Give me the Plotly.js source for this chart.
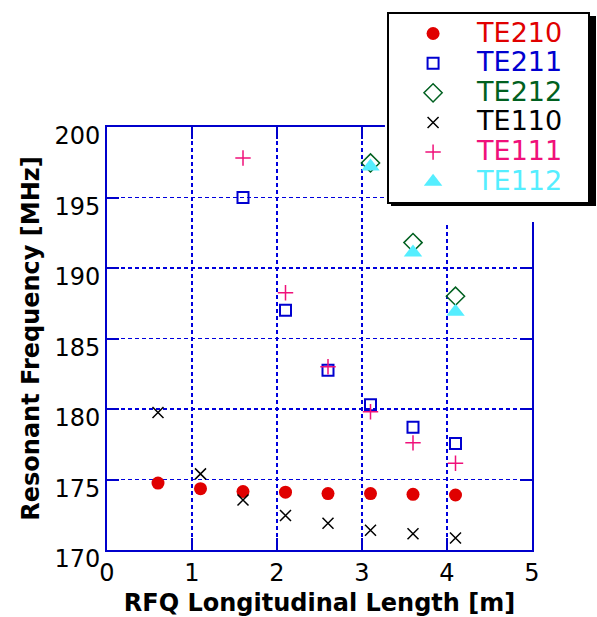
<!DOCTYPE html>
<html>
<head>
<meta charset="utf-8">
<script src="https://cdn.plot.ly/plotly-3.0.1.min.js"></script>
<style>html,body{margin:0;padding:0;background:#fff;}#chart{width:597px;height:617px;}</style>
</head>
<body>
<div id="chart"></div>
<script>
// Data
const xAll = [0.6, 1.1, 1.6, 2.1, 2.6, 3.1, 3.6, 4.1];
const te210 = [174.75, 174.35, 174.15, 174.1, 174.0, 174.0, 173.95, 173.9];
const te110 = [179.75, 175.4, 173.55, 172.45, 171.9, 171.4, 171.15, 170.85];
const x211 = [1.6, 2.1, 2.6, 3.1, 3.6, 4.1];
const te211 = [195.0, 187.0, 182.75, 180.3, 178.7, 177.55];
const te111 = [197.8, 188.25, 183.0, 179.8, 177.6, 176.15];
const x212 = [3.1, 3.6, 4.1];
const te212 = [197.45, 191.8, 188.0];
const te112 = [197.2, 191.1, 186.9];
const seriesNames = ['TE210', 'TE211', 'TE212', 'TE110', 'TE111', 'TE112'];

const colors = {
  TE210: '#e00000', TE211: '#0000d0', TE212: '#006020',
  TE110: '#000000', TE111: '#f0107a', TE112: '#55eeff'
};
function nm(n) {
  return '<span style="color:' + colors[n] + ';font-size:27px">' + n + '</span>\u00a0\u00a0\u00a0';
}

const traces = [
  {x: xAll, y: te210, name: nm(seriesNames[0]), mode: 'markers', type: 'scatter',
   marker: {symbol: 'circle', size: 13, color: colors.TE210}},
  {x: x211, y: te211, name: nm(seriesNames[1]), mode: 'markers', type: 'scatter',
   marker: {symbol: 'square-open', size: 11, color: colors.TE211, line: {width: 2, color: colors.TE211}}},
  {x: x212, y: te212, name: nm(seriesNames[2]), mode: 'markers', type: 'scatter',
   marker: {symbol: 'diamond-open', size: 14, color: colors.TE212, line: {width: 1.5, color: colors.TE212}}},
  {x: xAll, y: te110, name: nm(seriesNames[3]), mode: 'markers', type: 'scatter',
   marker: {symbol: 'x-thin-open', size: 11, color: colors.TE110, line: {width: 1.5, color: colors.TE110}}},
  {x: x211, y: te111, name: nm(seriesNames[4]), mode: 'markers', type: 'scatter',
   marker: {symbol: 'cross-thin-open', size: 11, color: colors.TE111, line: {width: 1.5, color: colors.TE111}}},
  {x: x212, y: te112, name: nm(seriesNames[5]), mode: 'markers', type: 'scatter',
   marker: {symbol: 'triangle-up', size: 16, color: colors.TE112}}
];

const axisCommon = {
  showline: true, linecolor: '#0000cc', linewidth: 2, mirror: 'ticks',
  ticks: 'inside', ticklen: 12, tickwidth: 2, tickcolor: '#0000cc',
  showgrid: true, gridcolor: '#0000dd', gridwidth: 1.5, griddash: '4px,3px',
  zeroline: false, automargin: false,
  tickfont: {family: 'DejaVu Sans, Verdana, sans-serif', size: 24, color: '#000'}
};

const layout = {
  width: 597, height: 617, autosize: false,
  margin: {l: 107, r: 65, t: 127, b: 67, pad: 0, autoexpand: false},
  paper_bgcolor: '#fff', plot_bgcolor: '#fff',
  font: {family: 'DejaVu Sans, Verdana, sans-serif', color: '#000'},
  xaxis: Object.assign({}, axisCommon, {
    range: [0, 5], tick0: 0, dtick: 1,
    title: {text: 'RFQ Longitudinal Length [m]', standoff: 8,
            font: {family: 'DejaVu Sans, Verdana, sans-serif', size: 24, weight: 'bold', color: '#000'}}
  }),
  yaxis: Object.assign({}, axisCommon, {
    range: [170, 200], tick0: 170, dtick: 5, ticklabelshift: 9,
    title: {text: 'Resonant Frequency [MHz]', standoff: 8,
            font: {family: 'DejaVu Sans, Verdana, sans-serif', size: 24, weight: 'bold', color: '#000'}}
  }),
  showlegend: true,
  legend: {
    x: 0.659, y: 1.2726, xanchor: 'left', yanchor: 'top',
    bgcolor: '#fff', bordercolor: '#000', borderwidth: 2,
    font: {family: 'DejaVu Sans, Verdana, sans-serif', size: 20.5, color: '#000'},
    itemwidth: 78, tracegroupgap: 0
  },
  shapes: [
    {type: 'rect', xref: 'paper', yref: 'paper', layer: 'above',
     x0: 0.654, x1: 1.16, y0: 0.7754, y1: 1.3, fillcolor: '#ffffff', line: {width: 0}},
    {type: 'rect', xref: 'paper', yref: 'paper', layer: 'above',
     x0: 0.6682, x1: 1.1506, y0: 0.8132, y1: 1.2624, fillcolor: '#000000', line: {width: 0}}
  ]
};

Plotly.newPlot('chart', traces, layout, {displayModeBar: false, staticPlot: true});
</script>
</body>
</html>
